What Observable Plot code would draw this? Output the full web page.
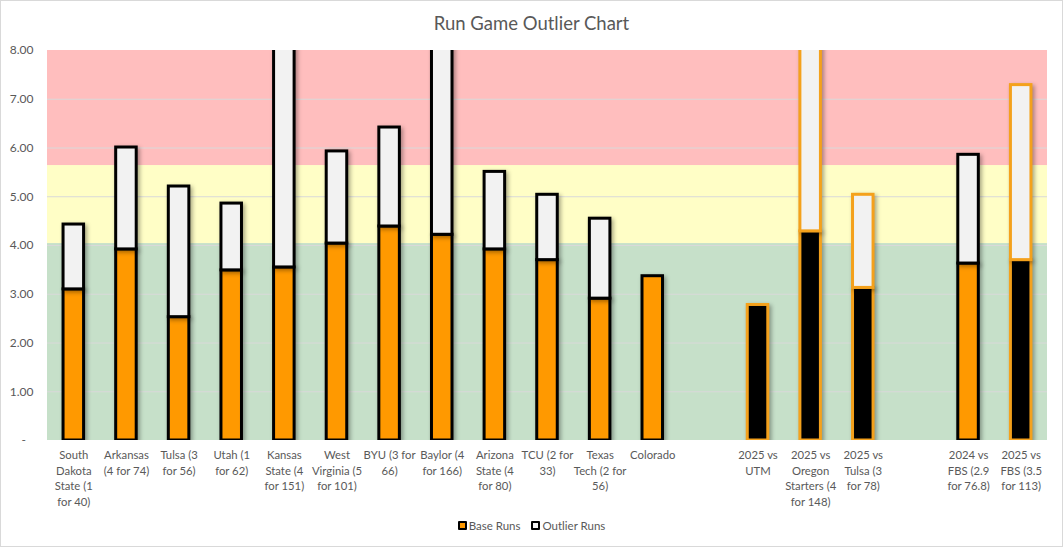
<!DOCTYPE html>
<html>
<head>
<meta charset="utf-8">
<script src="https://cdn.jsdelivr.net/npm/d3@7"></script>
<script src="https://cdn.jsdelivr.net/npm/@observablehq/plot@0.6"></script>
<style>
  html, body { margin: 0; padding: 0; background: #fff; }
  #chart { position: relative; width: 1061px; height: 545px; border: 1px solid #d9d9d9; background: #fff; font-family: Lato, "Open Sans", sans-serif; color: #595959; overflow: hidden; }
  #title { height: 40px; line-height: 44px; text-align: center; font-size: 18.5px; color: #595959; }
  #legend { position: absolute; left: 0; right: 0; top: 518px; text-align: center; font-size: 11.5px; color: #595959; }
  #legend span.item { display: inline-flex; align-items: center; margin: 0 4px; }
  #legend span.sw { display: inline-block; width: 5px; height: 5px; border: 2.5px solid #000; margin-right: 2px; border-radius: 1px; }
  g[aria-label="bar"] { filter: drop-shadow(2px 2px 2px rgba(0,0,0,0.35)); }
</style>
</head>
<body>
<div id="chart">
  <div id="title">Run Game Outlier Chart</div>
  <div id="plot"></div>
  <div id="legend">
    <span class="item"><span class="sw" style="background:#FF9900"></span>Base Runs</span>
    <span class="item"><span class="sw" style="background:#F2F2F2"></span>Outlier Runs</span>
  </div>
</div>
<script>
// Categories (x-axis labels, with two empty spacer slots)
const categories = [
  "South\nDakota\nState (1\nfor 40)",
  "Arkansas\n(4 for 74)",
  "Tulsa (3\nfor 56)",
  "Utah (1\nfor 62)",
  "Kansas\nState (4\nfor 151)",
  "West\nVirginia (5\nfor 101)",
  "BYU (3 for\n66)",
  "Baylor (4\nfor 166)",
  "Arizona\nState (4\nfor 80)",
  "TCU (2 for\n33)",
  "Texas\nTech (2 for\n56)",
  "Colorado",
  " ",
  "2025 vs\nUTM",
  "2025 vs\nOregon\nStarters (4\nfor 148)",
  "2025 vs\nTulsa (3\nfor 78)",
  "  ",
  "2024 vs\nFBS (2.9\nfor 76.8)",
  "2025 vs\nFBS (3.5\nfor 113)"
];
// Base runs (yards per carry without outliers)
const baseRuns = [3.10, 3.92, 2.53, 3.49, 3.55, 4.04, 4.39, 4.22, 3.92, 3.70, 2.91, 3.37, null, 2.78, 4.29, 3.13, null, 3.63, 3.70];
// Total including outlier runs (null = no outlier bar)
const totalRuns = [4.43, 6.01, 5.21, 4.86, 9.6, 5.93, 6.42, 10.2, 5.51, 5.04, 4.55, null, null, null, 9.3, 5.04, null, 5.86, 7.29];
// Season group (2025 bars are styled differently)
const season = ["old","old","old","old","old","old","old","old","old","old","old","old",null,"2025","2025","2025",null,"old","2025"];
// Zone bands
const zones = [
  {y1: 0, y2: 4.04, color: "#C6E0C9"},
  {y1: 4.04, y2: 5.64, color: "#FFFEC6"},
  {y1: 5.64, y2: 8, color: "#FFBEBE"}
];
const yTicks = [0, 1, 2, 3, 4, 5, 6, 7, 8];

const ORANGE = "#FF9900";
const ORANGE_STROKE = "#F4A11C";

const rows = categories.map((c, i) => ({
  cat: c, base: baseRuns[i], total: totalRuns[i], season: season[i]
}));
const baseRows = rows.filter(d => d.base != null);
const outRows = rows.filter(d => d.total != null);

const plot = Plot.plot({
  width: 1061,
  height: 470,
  marginLeft: 46,
  marginRight: 15,
  marginTop: 9,
  marginBottom: 71,
  style: {fontFamily: "Lato, 'Open Sans', sans-serif", color: "#595959", background: "transparent"},
  x: {domain: categories, paddingInner: 0.61, paddingOuter: 0.305, round: false, label: null},
  y: {domain: [0, 8], label: null},
  marks: [
    Plot.rect(zones, {y1: "y1", y2: "y2", fill: "color"}),
    Plot.ruleY([1, 2, 3, 4, 5, 6, 7], {stroke: "#D9D9D9", strokeWidth: 1}),
    Plot.barY(baseRows, {
      x: "cat", y1: 0, y2: "base",
      fill: d => d.season === "2025" ? "#000000" : ORANGE,
      stroke: d => d.season === "2025" ? ORANGE_STROKE : "#000000",
      strokeWidth: 3, clip: true
    }),
    Plot.barY(outRows, {
      x: "cat", y1: "base", y2: "total",
      fill: "#F2F2F2",
      stroke: d => d.season === "2025" ? ORANGE_STROKE : "#000000",
      strokeWidth: 3, clip: true
    }),
    Plot.axisY({
      ticks: yTicks, tickSize: 0, tickPadding: 14, fontSize: 12,
      tickFormat: d => d === 0 ? "-\u2002\u2009" : d.toFixed(2)
    }),
    Plot.axisX({
      tickSize: 0, tickPadding: 8, fontSize: 11.3, lineHeight: 1.36
    })
  ]
});
document.getElementById("plot").appendChild(plot);
</script>
</body>
</html>
